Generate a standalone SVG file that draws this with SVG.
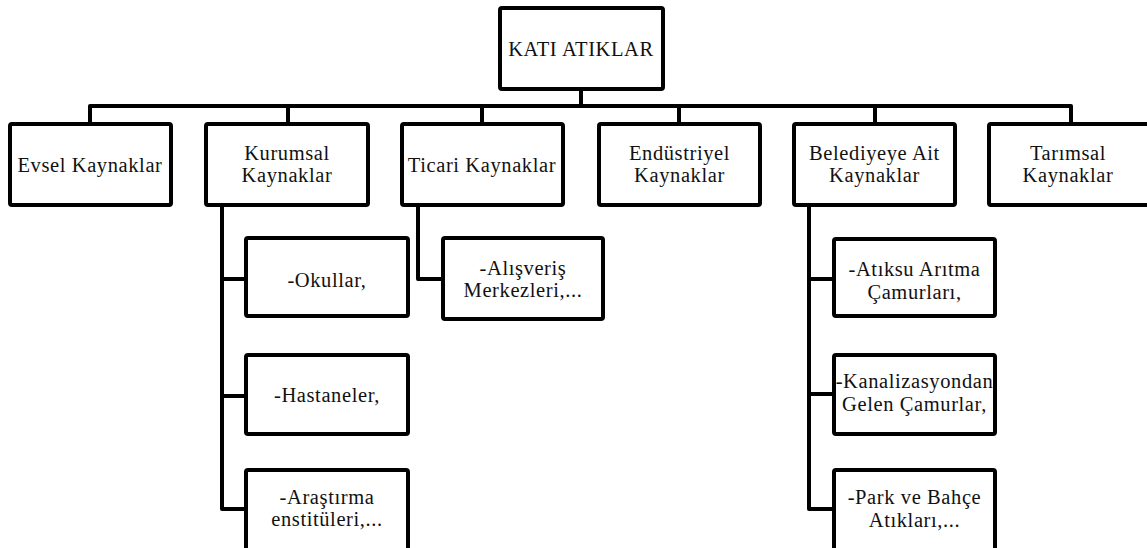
<svg xmlns="http://www.w3.org/2000/svg" width="1147" height="548" viewBox="0 0 1147 548">
<style>
.box{fill:#fff;stroke:#000;stroke-width:4;stroke-linejoin:round}
.con{fill:none;stroke:#000;stroke-width:4;stroke-linejoin:round;stroke-linecap:butt}
.t{font-family:'Liberation Serif','Times New Roman','DejaVu Serif',serif;font-size:20.5px;letter-spacing:0.6px;fill:#111;text-anchor:middle}
</style>
<rect width="1147" height="548" fill="#fff"/>
<g id="connectors">
<path class="con" d="M581 89V106"/>
<path class="con" d="M90 124V106H1071V124"/>
<path class="con" d="M288 106V124M482 106V124M679 106V124M875 106V124"/>
<path class="con" d="M222 205V509H246M222 279H246M222 396H246"/>
<path class="con" d="M418 205V279H443"/>
<path class="con" d="M809 205V509H834M809 279H834M809 394H834"/>
</g>
<g id="n-root"><rect class="box" x="500" y="8" width="163" height="81" rx="2"/><text class="t" x="581" y="56">KATI ATIKLAR</text></g>
<g id="n-evsel"><rect class="box" x="10" y="124" width="161" height="81" rx="2"/><text class="t" x="90" y="172">Evsel Kaynaklar</text></g>
<g id="n-kurumsal"><rect class="box" x="206" y="124" width="162" height="81" rx="2"/><text class="t" x="287" y="160">Kurumsal</text><text class="t" x="287" y="182">Kaynaklar</text></g>
<g id="n-ticari"><rect class="box" x="402" y="124" width="161" height="81" rx="2"/><text class="t" x="482" y="172">Ticari Kaynaklar</text></g>
<g id="n-endustriyel"><rect class="box" x="599" y="124" width="161" height="81" rx="2"/><text class="t" x="679.5" y="160">Endüstriyel</text><text class="t" x="679.5" y="182">Kaynaklar</text></g>
<g id="n-belediye"><rect class="box" x="794" y="124" width="161" height="81" rx="2"/><text class="t" x="874.5" y="160">Belediyeye Ait</text><text class="t" x="874.5" y="182">Kaynaklar</text></g>
<g id="n-tarimsal"><rect class="box" x="989" y="124" width="170" height="81" rx="2"/><text class="t" x="1068" y="160">Tarımsal</text><text class="t" x="1068" y="182">Kaynaklar</text></g>
<g id="n-okullar"><rect class="box" x="246" y="238" width="162" height="78" rx="2"/><text class="t" x="327" y="287">-Okullar,</text></g>
<g id="n-hastaneler"><rect class="box" x="246" y="355" width="162" height="79" rx="2"/><text class="t" x="327" y="402">-Hastaneler,</text></g>
<g id="n-arastirma"><rect class="box" x="246" y="470" width="162" height="100" rx="2"/><text class="t" x="327" y="504">-Araştırma</text><text class="t" x="327" y="526">enstitüleri,...</text></g>
<g id="n-alisveris"><rect class="box" x="443" y="238" width="160" height="81" rx="2"/><text class="t" x="523" y="275">-Alışveriş</text><text class="t" x="523" y="297">Merkezleri,...</text></g>
<g id="n-atiksu"><rect class="box" x="834" y="239" width="161" height="77" rx="2"/><text class="t" x="914.5" y="276">-Atıksu Arıtma</text><text class="t" x="914.5" y="299">Çamurları,</text></g>
<g id="n-kanalizasyon"><rect class="box" x="834" y="355" width="161" height="79" rx="2"/><text class="t" x="914.5" y="388">-Kanalizasyondan</text><text class="t" x="914.5" y="411">Gelen Çamurlar,</text></g>
<g id="n-park"><rect class="box" x="834" y="470" width="161" height="100" rx="2"/><text class="t" x="914.5" y="504">-Park ve Bahçe</text><text class="t" x="914.5" y="527">Atıkları,...</text></g>
</svg>
